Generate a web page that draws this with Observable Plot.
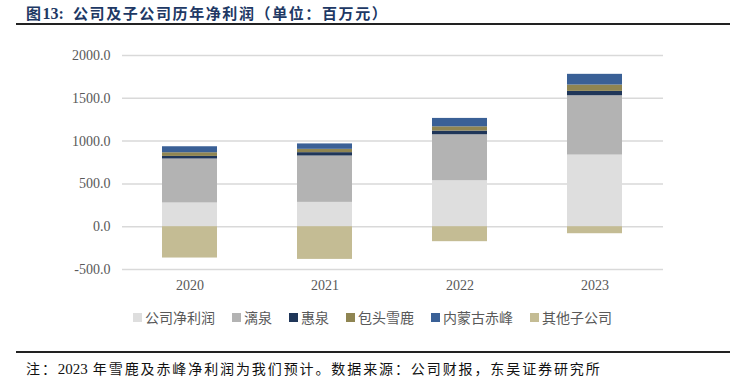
<!DOCTYPE html>
<html>
<head>
<meta charset="utf-8">
<script src="https://cdn.jsdelivr.net/npm/d3@7"></script>
<script src="https://cdn.jsdelivr.net/npm/@observablehq/plot@0.6"></script>
<style>
  html, body { margin: 0; padding: 0; background: #fff; }
  #page { position: relative; width: 746px; height: 389px; overflow: hidden; font-family: "Noto Sans CJK SC", sans-serif; }
  #title { position: absolute; left: 26px; top: 2px; font-size: 15px; font-weight: bold; color: #203864; letter-spacing: 1.6px; white-space: nowrap; }
  #title .num { font-family: "Liberation Serif", serif; font-size: 16px; letter-spacing: 0; margin-right: 4px; }
  .hline { position: absolute; left: 16px; width: 714px; height: 2px; background: #222; }
  #chart { position: absolute; left: 0; top: 30px; }
  #legend { position: absolute; left: 133px; top: 307px; display: flex; gap: 17px; font-size: 14px; color: #595959; white-space: nowrap; }
  #legend .item { display: flex; align-items: center; }
  #legend .sw { width: 9px; height: 9px; margin-right: 3px; }
  #note { position: absolute; left: 26px; top: 358px; font-size: 14px; color: #111; letter-spacing: 1.9px; white-space: nowrap; }
  #note .num { font-family: "Liberation Serif", serif; font-size: 15px; letter-spacing: 0; }
</style>
</head>
<body>
<div id="page">
  <div id="title">图<span class="num">13:</span> 公司及子公司历年净利润（单位：百万元）</div>
  <div class="hline" style="top:23px"></div>
  <div id="chart"></div>
  <div id="legend"></div>
  <div class="hline" style="top:351px"></div>
  <div id="note">注：<span class="num">2023</span> 年雪鹿及赤峰净利润为我们预计。数据来源：公司财报，东吴证券研究所</div>
</div>
<script>
const years = ["2020", "2021", "2022", "2023"];
const seriesNames = ["公司净利润", "漓泉", "惠泉", "包头雪鹿", "内蒙古赤峰", "其他子公司"];
const companyProfit = [277, 284, 537, 837];
const liquan = [514, 542, 537, 693];
const huiquan = [30, 39, 43, 51];
const baotouXuelu = [43, 39, 50, 74];
const neimengguChifeng = [70, 63, 98, 125];
const otherSubs = [-366, -382, -175, -82];
const seriesColors = ["#dedede", "#b3b3b3", "#1f3659", "#8f8552", "#3a6096", "#c4bc94"];
const yTicks = [-500, 0, 500, 1000, 1500, 2000];

const seriesValues = [companyProfit, liquan, huiquan, baotouXuelu, neimengguChifeng, otherSubs];
const data = [];
seriesNames.forEach((name, si) => {
  years.forEach((yr, i) => data.push({ year: yr, series: name, value: seriesValues[si][i] }));
});

const chart = Plot.plot({
  width: 746,
  height: 270,
  marginLeft: 122,
  marginRight: 83,
  marginTop: 25,
  marginBottom: 31,
  style: { fontFamily: "'Liberation Serif', serif", fontSize: "14px", color: "#595959", background: "#fff" },
  x: { domain: years, paddingInner: 0.59, paddingOuter: 0.29, label: null },
  y: { domain: [-500, 2000], label: null },
  color: { domain: seriesNames, range: seriesColors },
  marks: [
    Plot.ruleY(yTicks, { stroke: "#d9d9d9", strokeWidth: 1.5 }),
    Plot.barY(data, { x: "year", y: "value", fill: "series", order: seriesNames }),
    Plot.axisY({ ticks: yTicks, tickFormat: d => d.toFixed(1), tickSize: 0, tickPadding: 12, fontSize: 14 }),
    Plot.axisX({ tickSize: 0, tickPadding: 11, fontSize: 14 })
  ]
});
document.getElementById("chart").appendChild(chart);

const legend = document.getElementById("legend");
seriesNames.forEach((name, i) => {
  const item = document.createElement("div");
  item.className = "item";
  const sw = document.createElement("span");
  sw.className = "sw";
  sw.style.background = seriesColors[i];
  const t = document.createElement("span");
  t.textContent = name;
  item.appendChild(sw);
  item.appendChild(t);
  legend.appendChild(item);
});
</script>
</body>
</html>
